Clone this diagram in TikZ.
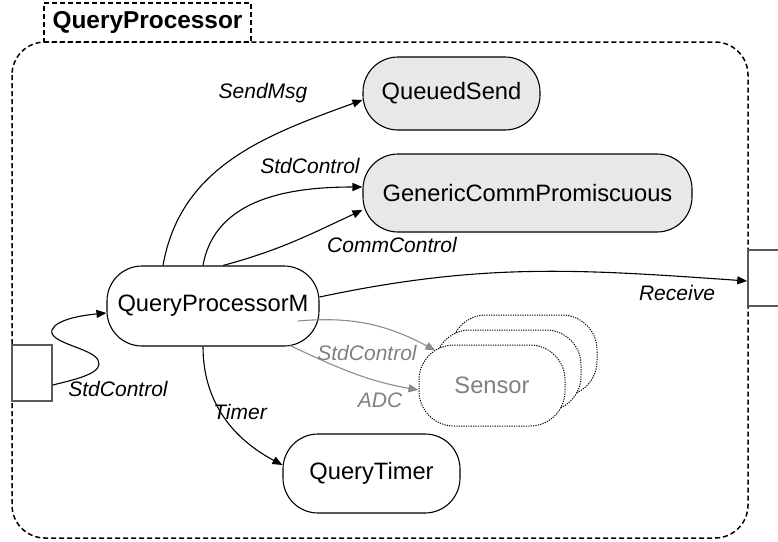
\documentclass[tikz,border=0pt]{standalone}
\usepackage{fontspec}
\setmainfont{Liberation Sans}
\usetikzlibrary{arrows.meta,calc}
\begin{document}
\begin{tikzpicture}[x=1pt,y=1pt,
  comp/.style={draw,line width=1.1pt,rounded corners=35pt,inner sep=0pt,fill=white,
    font=\fontsize{23.7}{28}\selectfont},
  shadedcomp/.style={comp,fill=black!9},
  sensorbox/.style={comp,draw=black,dash pattern=on 1.2pt off 1.2pt,line width=1pt,text=black!50},
  lbl/.style={font=\fontsize{21}{25}\selectfont\itshape,inner sep=0pt},
  glbl/.style={lbl,text=black!50},
  conn/.style={line width=1.1pt,-{Triangle[length=10pt,width=8pt]}},
  gconn/.style={conn,draw=black!45},
  dashbox/.style={line width=1.5pt,dash pattern=on 5pt off 3pt},
  portbox/.style={draw=black!65,line width=1.5pt,inner sep=0pt}
]
\useasboundingbox (0,0) rectangle (778,-541);

% outer container
\draw[dashbox,rounded corners=33pt] (12,-42) rectangle (748,-538);
\node[draw,dashbox,fill=white,minimum width=207pt,minimum height=39pt,inner sep=0pt,
  font=\fontsize{24.4}{28}\selectfont\bfseries] (title) at (147.5,-22.5) {QueryProcessor};

% port boxes
\node[portbox,minimum width=40pt,minimum height=56pt] (lbox) at (32,-373) {};
\node[portbox,minimum width=44pt,minimum height=56pt] (rbox) at (770,-278) {};

% components
\node[comp,minimum width=212pt,minimum height=80pt] (qpm) at (213,-306) {QueryProcessorM};
\node[shadedcomp,minimum width=177pt,minimum height=73pt] (qs) at (451.5,-93.5) {QueuedSend};
\node[shadedcomp,minimum width=329pt,minimum height=78pt] (gcp) at (527.5,-193) {GenericCommPromiscuous};
\node[comp,minimum width=177pt,minimum height=79pt] (qt) at (371.5,-473.5) {QueryTimer};
\node[sensorbox,minimum width=146pt,minimum height=81pt] (sensor3) at (524,-355.5) {};
\node[sensorbox,minimum width=146pt,minimum height=81pt] (sensor2) at (508,-370.5) {};
\node[sensorbox,minimum width=146pt,minimum height=81pt] (sensor) at (492,-385.5) {Sensor};

% connectors
\draw[conn] ([xshift=-50pt]qpm.north) to[out=80,in=200] ([yshift=-6.5pt]qs.west);
\draw[conn] ([xshift=-10pt]qpm.north) to[out=80,in=180] ([yshift=6pt]gcp.west);
\draw[conn] ([xshift=10pt]qpm.north) to[out=15,in=205] ([yshift=-17pt]gcp.west);
\draw[conn] ([yshift=9pt]qpm.east) to[out=12,in=176] ([yshift=-3pt]rbox.west);
\draw[conn] ([xshift=-10pt]qpm.south) to[out=-90,in=152] ([yshift=8.5pt]qt.west);
\draw[gconn] ([xshift=-22pt,yshift=-15pt]qpm.east) to[out=5,in=152] ([xshift=17pt,yshift=35pt]sensor.west);
\draw[gconn] ([xshift=77pt,yshift=1pt]qpm.south) to[out=-25,in=170] ([yshift=-4.5pt]sensor.west);
\draw[conn] ([yshift=-12pt]lbox.east) .. controls (82,-378) and (104,-372) .. (98,-360)
  .. controls (92,-348) and (48,-343) .. (52,-330)
  .. controls (56,-319) and (85,-315) .. ([yshift=-7pt]qpm.west);

% labels
\node[lbl] (l1) at (263,-93) {SendMsg};
\node[lbl] (l2) at (310,-166) {StdControl};
\node[lbl] (l3) at (392,-245) {CommControl};
\node[lbl] (l4) at (677,-293) {Receive};
\node[glbl] (l5) at (367,-353) {StdControl};
\node[glbl] (l6) at (380,-400) {ADC};
\node[lbl] (l7) at (240,-412) {Timer};
\node[lbl] (l8) at (118,-389) {StdControl};
\end{tikzpicture}
\end{document}
